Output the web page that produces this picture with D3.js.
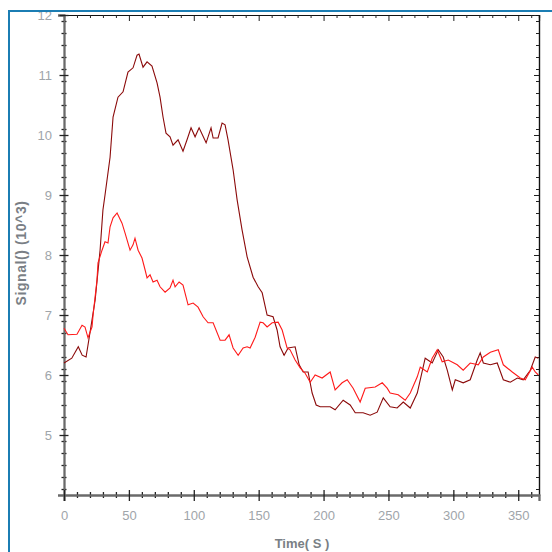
<!DOCTYPE html>
<html>
<head>
<meta charset="utf-8">
<script src="https://cdn.jsdelivr.net/npm/d3@7"></script>
<style>
  body { margin: 0; background: #fff; }
  svg { display: block; font-family: Arial, "Liberation Sans", sans-serif; }
</style>
</head>
<body>
<svg width="552" height="552"></svg>
<script>
var svg = d3.select("svg");

// dark red trace
var darkTime = [0, 6, 11, 14, 17, 18.5, 21.6, 24, 27.8, 30, 31.6, 35.5, 37.8, 41.6, 45.5, 49.3, 53.2, 56.3, 57.8, 60.9, 64, 67.8, 71.7, 74, 76.3, 78.6, 81.7, 84, 87.9, 91.7, 94.8, 97.9, 101, 104.1, 109.5, 113.3, 114.9, 118.7, 121.8, 124.1, 126.4, 130.3, 133.4, 137.2, 141.1, 145.7, 149.6, 152.7, 156.5, 161.1, 164.2, 166.5, 169.6, 172.7, 178.1, 181.2, 184.3, 188.1, 191.2, 194.3, 197.4, 205.1, 208.9, 215.1, 220.5, 224.4, 230.5, 235.9, 241.3, 246, 251.3, 256.7, 261.4, 266.8, 272.2, 278.3, 283.7, 288.4, 292.2, 295.3, 299.2, 301.5, 307.6, 313, 318.4, 320.7, 323.1, 328.5, 333.8, 338.5, 343.9, 349.3, 353.9, 359.3, 363.1, 365.5];
var darkSignal = [6.20, 6.28, 6.47, 6.33, 6.30, 6.50, 6.92, 7.25, 8.08, 8.75, 9.00, 9.63, 10.30, 10.63, 10.72, 11.05, 11.12, 11.33, 11.35, 11.13, 11.22, 11.15, 10.87, 10.63, 10.30, 10.03, 9.97, 9.83, 9.92, 9.73, 9.92, 10.12, 9.97, 10.12, 9.87, 10.12, 9.95, 9.95, 10.20, 10.17, 9.92, 9.42, 8.92, 8.42, 7.97, 7.63, 7.47, 7.37, 7.00, 6.97, 6.75, 6.47, 6.33, 6.45, 6.47, 6.17, 6.05, 6.05, 5.70, 5.50, 5.47, 5.47, 5.42, 5.58, 5.50, 5.37, 5.37, 5.33, 5.38, 5.62, 5.47, 5.45, 5.55, 5.45, 5.70, 6.28, 6.20, 6.42, 6.30, 6.08, 5.75, 5.92, 5.87, 5.92, 6.25, 6.37, 6.20, 6.17, 6.20, 5.92, 5.88, 5.95, 5.92, 6.08, 6.30, 6.28];

// red trace
var redTime = [0, 3.1, 10, 13.9, 16.2, 18.5, 21.6, 22.4, 25.4, 26.2, 29.3, 31.6, 33.9, 35.5, 37.8, 40.9, 44.7, 47, 50.9, 53.2, 54.7, 57.1, 60.1, 62.5, 64, 66.3, 68.6, 71.7, 74, 77.9, 81.7, 84, 85.6, 88.7, 91.7, 95.6, 99.5, 103.3, 107.2, 111, 114.9, 120.3, 124.1, 127.2, 130.3, 134.2, 138, 141.1, 143.4, 147.3, 151.1, 153.4, 156.5, 160.4, 165, 168.1, 171.9, 174.2, 178.1, 182, 185.8, 189.7, 193.5, 198.9, 205.1, 208.9, 214.3, 218.2, 222.8, 228.2, 232.1, 239.8, 245.2, 249, 251.3, 257.5, 262.9, 266.8, 272.2, 274.5, 279.9, 283.7, 287.6, 291.4, 296.1, 303, 307.6, 313, 319.2, 323.1, 328.5, 334.6, 338.5, 345.4, 351.6, 355.4, 360.8, 363.1, 365.5];
var redSignal = [6.78, 6.67, 6.68, 6.83, 6.80, 6.62, 6.80, 7.00, 7.58, 7.87, 8.08, 8.22, 8.20, 8.47, 8.62, 8.70, 8.53, 8.37, 8.08, 8.17, 8.28, 8.08, 7.95, 7.75, 7.62, 7.67, 7.55, 7.58, 7.47, 7.38, 7.45, 7.58, 7.47, 7.55, 7.50, 7.17, 7.20, 7.13, 6.97, 6.87, 6.87, 6.58, 6.58, 6.67, 6.45, 6.33, 6.45, 6.47, 6.45, 6.63, 6.88, 6.87, 6.80, 6.87, 6.88, 6.75, 6.45, 6.42, 6.25, 6.12, 6.03, 5.88, 6.00, 5.95, 6.05, 5.75, 5.87, 5.92, 5.78, 5.55, 5.78, 5.80, 5.87, 5.78, 5.70, 5.67, 5.58, 5.70, 5.97, 6.13, 6.05, 6.28, 6.42, 6.22, 6.25, 6.17, 6.08, 6.20, 6.17, 6.30, 6.38, 6.42, 6.17, 6.05, 5.95, 5.92, 6.13, 6.05, 6.00];

var xMajor = [0, 50, 100, 150, 200, 250, 300, 350];
var yMajor = [5, 6, 7, 8, 9, 10, 11, 12];

var margin = {left: 64, right: 539, top: 15, bottom: 495};

var xScale = d3.scaleLinear().domain([0, 366]).range([margin.left, margin.right]);
var yScale = d3.scaleLinear().domain([4, 12]).range([margin.bottom, margin.top]);

var xMinor = d3.range(10, 366, 10).filter(function(d) { return d % 50 != 0; });
var yMinor = d3.range(41, 120, 2).map(function(d) { return d / 10; }).filter(function(d) { return d % 1 != 0; });

var tickColor = "#222";
var labelColor = "#a0a5aa";

// top axis (ticks inward)
var topMajor = svg.append("g")
  .attr("transform", "translate(0," + margin.top + ")")
  .call(d3.axisBottom(xScale).tickValues(xMajor).tickSize(6).tickFormat(""));
var topMinor = svg.append("g")
  .attr("transform", "translate(0," + margin.top + ")")
  .call(d3.axisBottom(xScale).tickValues(xMinor).tickSize(3).tickFormat(""));

// right axis (ticks inward)
var rightMajor = svg.append("g")
  .attr("transform", "translate(" + margin.right + ",0)")
  .call(d3.axisLeft(yScale).tickValues(yMajor).tickSize(5).tickFormat(""));
var rightMinor = svg.append("g")
  .attr("transform", "translate(" + margin.right + ",0)")
  .call(d3.axisLeft(yScale).tickValues(yMinor).tickSize(3).tickFormat(""));

[topMajor, topMinor, rightMajor, rightMinor].forEach(function(g) {
  g.select(".domain").attr("stroke", "#111").attr("stroke-width", 1.2);
  g.selectAll(".tick line").attr("stroke", tickColor);
});

// left axis, ticks crossing the line
var leftMinor = svg.append("g")
  .attr("transform", "translate(" + margin.left + ",0)")
  .call(d3.axisLeft(yScale).tickValues(yMinor).tickFormat(""));
leftMinor.selectAll(".tick line").attr("x1", 2.5).attr("x2", -2.5).attr("stroke", tickColor).attr("stroke-width", 1.3);

var leftMajor = svg.append("g")
  .attr("transform", "translate(" + margin.left + ",0)")
  .call(d3.axisLeft(yScale).tickValues(yMajor).tickFormat(d3.format("d")));
leftMajor.selectAll(".tick line").attr("x1", 4.5).attr("x2", -4.5).attr("stroke", tickColor).attr("stroke-width", 1.3);
leftMajor.selectAll(".tick text")
  .attr("x", -12)
  .attr("fill", labelColor)
  .style("font-size", "13px");

[leftMinor, leftMajor].forEach(function(g) {
  g.select(".domain").attr("stroke", "#6a6a6a").attr("stroke-width", 1.8);
});

// bottom axis
var bottomMinor = svg.append("g")
  .attr("transform", "translate(0," + margin.bottom + ")")
  .call(d3.axisBottom(xScale).tickValues(xMinor).tickFormat(""));
bottomMinor.selectAll(".tick line").attr("y1", -3).attr("y2", 3).attr("stroke", tickColor).attr("stroke-width", 1.3);

var bottomMajor = svg.append("g")
  .attr("transform", "translate(0," + margin.bottom + ")")
  .call(d3.axisBottom(xScale).tickValues(xMajor).tickFormat(d3.format("d")));
bottomMajor.selectAll(".tick line").attr("y1", -5).attr("y2", 6).attr("stroke", tickColor).attr("stroke-width", 1.3);
bottomMajor.selectAll(".tick text")
  .attr("y", 16)
  .attr("fill", labelColor)
  .style("font-size", "13px");

[bottomMinor, bottomMajor].forEach(function(g) {
  g.select(".domain").attr("stroke", "#6a6a6a").attr("stroke-width", 1.8);
});

// lines
var line = d3.line()
  .x(function(d) { return xScale(d[0]); })
  .y(function(d) { return yScale(d[1]); });

svg.append("path")
  .attr("d", line(d3.zip(darkTime, darkSignal)))
  .attr("fill", "none")
  .attr("stroke", "#8b0a0a")
  .attr("stroke-width", 1.1);

svg.append("path")
  .attr("d", line(d3.zip(redTime, redSignal)))
  .attr("fill", "none")
  .attr("stroke", "#ff1a1a")
  .attr("stroke-width", 1.1);

// axis titles
svg.append("text")
  .attr("transform", "translate(26,253) rotate(-90)")
  .style("text-anchor", "middle")
  .style("font-size", "14px")
  .style("letter-spacing", "0.6px")
  .style("font-weight", "bold")
  .attr("fill", "#7a7f85")
  .text("Signal() (10^3)");

svg.append("text")
  .attr("x", 302)
  .attr("y", 548)
  .style("text-anchor", "middle")
  .style("font-size", "13px")
  .style("font-weight", "bold")
  .attr("fill", "#7a7f85")
  .text("Time( S )");

// panel frame (top and left edges)
svg.append("path")
  .attr("d", "M9,552 V11 H552")
  .attr("fill", "none")
  .attr("stroke", "#1b7db3")
  .attr("stroke-width", 2);
</script>
</body>
</html>
